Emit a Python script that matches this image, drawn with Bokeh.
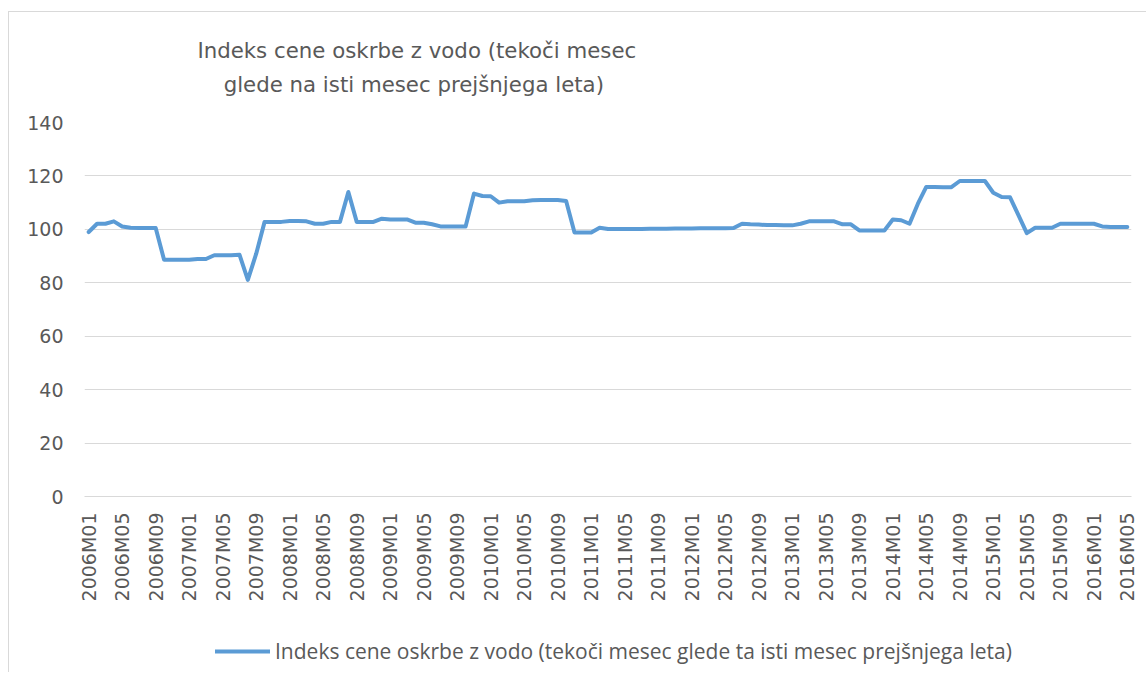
from bokeh.plotting import figure
from bokeh.models import Range1d, FixedTicker, Legend, LegendItem, Label
from bokeh.layouts import column
from bokeh.embed import file_html
from bokeh.resources import INLINE
import math

years = list(range(2006, 2017))
months = [f"{y}M{m:02d}" for y in years for m in range(1, 13)][:125]

values = [
    99.0, 102.1, 102.1, 103.0, 101.1, 100.6, 100.5, 100.5, 100.5, 88.6,
    88.6, 88.6, 88.6, 88.9, 88.9, 90.3, 90.3, 90.3, 90.5, 81.1,
    90.9, 102.8, 102.8, 102.8, 103.1, 103.1, 103.0, 102.1, 102.1, 102.8,
    102.8, 114.0, 102.8, 102.8, 102.8, 104.0, 103.7, 103.7, 103.7, 102.5,
    102.5, 101.9, 101.1, 101.1, 101.1, 101.1, 113.4, 112.5, 112.4, 110.0,
    110.5, 110.5, 110.5, 110.9, 111.0, 111.0, 111.0, 110.6, 98.8, 98.8,
    98.8, 100.6, 100.1, 100.1, 100.1, 100.1, 100.1, 100.2, 100.2, 100.2,
    100.3, 100.3, 100.3, 100.4, 100.4, 100.4, 100.4, 100.5, 102.1, 101.9,
    101.8, 101.6, 101.6, 101.5, 101.5, 102.1, 103.0, 103.0, 103.0, 103.0,
    101.9, 101.9, 99.6, 99.6, 99.6, 99.6, 103.7, 103.4, 102.1, 109.6,
    115.9, 115.9, 115.8, 115.8, 118.1, 118.1, 118.1, 118.1, 113.7, 112.1,
    112.0, 105.3, 98.6, 100.6, 100.6, 100.6, 102.1, 102.1, 102.1, 102.1,
    102.1, 101.1, 100.9, 100.9, 100.9,
]

y_ticks = [0, 20, 40, 60, 80, 100, 120, 140]
title_lines = ["Indeks cene oskrbe z vodo (tekoči mesec",
               "glede na isti mesec prejšnjega leta)"]
legend_label = "Indeks cene oskrbe z vodo (tekoči mesec glede ta isti mesec prejšnjega leta)"

TXT = "#595959"
GRID = "#d9d9d9"
LINE = "#5b9bd5"
BORDER = "1px solid #d9d9d9"

x = list(range(len(values)))


def bare(fig):
    fig.outline_line_color = None
    fig.background_fill_color = "white"
    fig.border_fill_color = "white"
    fig.xgrid.grid_line_color = None
    fig.ygrid.grid_line_color = None
    return fig


# ---- title strip ----
tfig = figure(frame_width=1137, frame_height=95, output_backend="svg", toolbar_location=None,
              x_range=Range1d(0, 1137), y_range=Range1d(0, 95),
              x_axis_type=None, y_axis_type=None,
              min_border_left=0, min_border_right=0, min_border_top=0, min_border_bottom=0,
              styles={"margin-left": "8px", "margin-top": "11px",
                      "border-top": BORDER, "border-left": BORDER})
tfig.title = None
bare(tfig)
for t, cx, cy in zip(title_lines, [332, 329], [57, 24]):
    tfig.add_layout(Label(x=cx, y=cy, text=t, text_align="center", text_baseline="middle",
                          text_font="DejaVu Sans", text_font_size="21.3px", text_color=TXT))

# ---- main chart ----
p = figure(frame_width=1046, frame_height=374, output_backend="svg", toolbar_location=None,
           x_range=Range1d(-0.5, len(values) - 0.5), y_range=Range1d(0, 140),
           min_border_left=75, min_border_right=16, min_border_top=15,
           min_border_bottom=110,
           styles={"margin-left": "8px", "border-left": BORDER})
p.title = None
p.outline_line_color = None
p.background_fill_color = "white"
p.border_fill_color = "white"

r = p.line(x, values, line_color=LINE, line_width=4, line_join="round", line_cap="round")

p.xaxis.ticker = FixedTicker(ticks=list(range(0, len(values), 4)))
p.xaxis.major_label_overrides = {i: months[i] for i in range(0, len(values), 4)}
p.xaxis.major_label_orientation = math.pi / 2
p.xaxis.axis_line_color = GRID
p.xaxis.major_tick_line_color = None
p.xaxis.minor_tick_line_color = None
p.xaxis.major_tick_out = 0
p.xaxis.major_label_standoff = 16
p.xaxis.major_label_text_font = "DejaVu Sans"
p.xaxis.major_label_text_font_size = "19px"
p.xaxis.major_label_text_color = TXT

p.yaxis.ticker = FixedTicker(ticks=y_ticks)
p.yaxis.axis_line_color = None
p.yaxis.major_tick_line_color = None
p.yaxis.minor_tick_line_color = None
p.yaxis.major_tick_out = 0
p.yaxis.major_label_standoff = 21
p.yaxis.major_label_text_font = "DejaVu Sans"
p.yaxis.major_label_text_font_size = "19px"
p.yaxis.major_label_text_color = TXT

p.xgrid.grid_line_color = None
p.ygrid.grid_line_color = GRID
p.ygrid.grid_line_width = 1

# ---- legend strip (series drawn out of view; only its legend entry shows) ----
lfig = figure(frame_width=1046, frame_height=38, output_backend="svg", toolbar_location=None,
              x_range=Range1d(-0.5, len(values) - 0.5), y_range=Range1d(0, 1),
              x_axis_type=None, y_axis_type=None,
              min_border_left=75, min_border_right=16, min_border_top=26, min_border_bottom=2,
              styles={"margin-left": "8px", "border-left": BORDER})
lfig.title = None
bare(lfig)
lr = lfig.line(x, values, line_color=LINE, line_width=4, line_cap="round")
legend = Legend(items=[LegendItem(label=legend_label, renderers=[lr])],
                location="left", orientation="horizontal",
                glyph_width=55, glyph_height=20, label_standoff=5,
                padding=0, margin=131, spacing=0,
                border_line_color=None, background_fill_alpha=0,
                label_text_font="Open Sans", label_text_font_size="21px",
                label_text_color=TXT, label_height=20)
lfig.add_layout(legend)

layout = column(tfig, p, lfig, spacing=0)
open("out.html", "w").write(file_html(layout, INLINE))
